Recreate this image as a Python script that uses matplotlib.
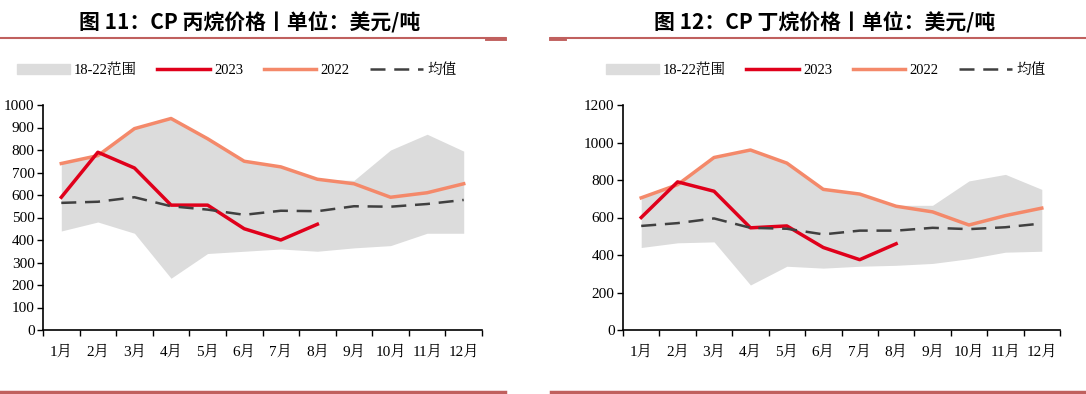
import matplotlib
matplotlib.use("Agg")
import matplotlib.pyplot as plt
from matplotlib.lines import Line2D
from matplotlib.patches import Patch
import numpy as np

months = ["1月", "2月", "3月", "4月", "5月", "6月", "7月", "8月", "9月", "10月", "11月", "12月"]

# Propane
p_upper = [740, 775, 895, 940, 850, 750, 725, 670, 665, 800, 870, 795]
p_lower = [440, 480, 430, 230, 340, 350, 360, 350, 365, 375, 430, 430]
p_2023 = [590, 790, 720, 555, 555, 450, 400, 470]
p_2022 = [740, 775, 895, 940, 850, 750, 725, 670, 650, 590, 610, 650]
p_mean = [565, 570, 590, 550, 535, 512, 530, 528, 550, 548, 560, 578]

# Butane
b_upper = [705, 775, 920, 960, 890, 750, 725, 665, 665, 795, 830, 750]
b_lower = [440, 465, 470, 240, 340, 330, 340, 345, 355, 380, 415, 420]
b_2023 = [600, 790, 740, 545, 555, 440, 375, 460]
b_2022 = [705, 775, 920, 960, 890, 750, 725, 660, 630, 560, 610, 650]
b_mean = [555, 570, 595, 545, 540, 510, 530, 530, 545, 538, 548, 568]

titles = ["图 11：CP 丙烷价格丨单位：美元/吨", "图 12：CP 丁烷价格丨单位：美元/吨"]

C_RED = "#E0001B"
C_ORANGE = "#F4896A"
C_GRAY = "#DCDCDC"
C_DASH = "#404040"
C_RULE = "#C0605E"
SERIF = ["Liberation Serif", "Noto Serif CJK SC", "Noto Sans CJK SC", "DejaVu Sans"]
plt.rcParams["font.family"] = SERIF

W, H = 1086, 394
fig = plt.figure(figsize=(W / 100, H / 100), dpi=100)

def fx(px):
    return px / W

def fy(py):
    return 1 - py / H

panels = [
    dict(ax_l=43, ax_r=482, up=p_upper, lo=p_lower, y23=p_2023, y22=p_2022, mean=p_mean,
         ymax=1000, ystep=100, title=titles[0], tx=250, rule=(0, 505), thick=(487, 505),
         leg_x=17),
    dict(ax_l=623, ax_r=1060, up=b_upper, lo=b_lower, y23=b_2023, y22=b_2022, mean=b_mean,
         ymax=1200, ystep=200, title=titles[1], tx=825, rule=(551, 1086), thick=(551, 565),
         leg_x=606),
]

for p in panels:
    ax = fig.add_axes([fx(p["ax_l"]), fy(330), fx(p["ax_r"] - p["ax_l"]), (330 - 105) / H])
    x = np.arange(12) + 0.5
    ax.fill_between(x, p["lo"], p["up"], color=C_GRAY, linewidth=0, label="18-22范围")
    ax.plot(x[:len(p["y23"])], p["y23"], color=C_RED, lw=2.5, label="2023", zorder=4)
    ax.plot(x, p["y22"], color=C_ORANGE, lw=2.5, label="2022", zorder=3)
    ax.plot(x, p["mean"], color=C_DASH, lw=1.8, dashes=(6, 3.5), label="均值", zorder=5)
    ax.set_xlim(0, 12)
    ax.set_ylim(0, p["ymax"])
    ax.set_yticks(np.arange(0, p["ymax"] + 1, p["ystep"]))
    ax.set_xticks(np.arange(13))
    ax.set_xticklabels([])
    ax.set_xticks(x, minor=True)
    ax.set_xticklabels(months, minor=True, fontsize=11)
    ax.tick_params(axis="x", which="minor", length=0, pad=11)
    ax.tick_params(axis="x", which="major", length=4, width=1, direction="out")
    ax.tick_params(axis="y", length=4, width=1, direction="out", labelsize=11, pad=2)
    for s in ["top", "right"]:
        ax.spines[s].set_visible(False)
    for s in ["left", "bottom"]:
        ax.spines[s].set_linewidth(1.2)
        ax.spines[s].set_color("black")
    handles = [Patch(color=C_GRAY),
               Line2D([], [], color=C_RED, lw=2.5),
               Line2D([], [], color=C_ORANGE, lw=2.5),
               Line2D([], [], color=C_DASH, lw=1.8, dashes=(6, 3.5))]
    labels = ["18-22范围", "2023", "2022", "均值"]
    fig.legend(handles, labels, loc="center left", bbox_to_anchor=(fx(p["leg_x"]), fy(70)),
               ncol=4, frameon=False, fontsize=10.5, handlelength=3.6, handleheight=0.7,
               columnspacing=1.4, handletextpad=0.3, borderaxespad=0, borderpad=0)
    fig.text(fx(p["tx"]), fy(22), p["title"], ha="center", va="center", fontsize=15,
             fontweight="bold", family=["Noto Sans CJK SC", "DejaVu Sans"])
    r0, r1 = p["rule"]
    fig.add_artist(Line2D([fx(r0), fx(r1)], [fy(38), fy(38)], color=C_RULE, lw=1.5,
                          transform=fig.transFigure))
    t0, t1 = p["thick"]
    fig.add_artist(Line2D([fx(t0), fx(t1)], [fy(38.8), fy(38.8)], color=C_RULE, lw=2.8,
                          transform=fig.transFigure))
    fig.add_artist(Line2D([fx(r0), fx(r1)], [fy(392), fy(392)], color=C_RULE, lw=2.5,
                          transform=fig.transFigure))

fig.savefig("out.png", dpi=100)
